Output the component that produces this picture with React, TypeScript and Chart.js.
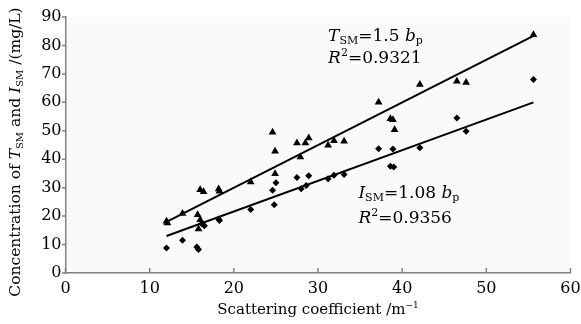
import React, { useEffect, useRef } from "react";
import { Chart, registerables } from "chart.js";

Chart.register(...registerables);

// ---- data ----
const tsmX = [12.0, 12.1, 13.9, 15.7, 16.0, 15.8, 16.0, 16.4, 18.2, 18.3, 22.0, 24.6, 24.9, 24.9, 27.5, 27.9, 28.5, 28.9, 31.2, 31.9, 33.1, 37.2, 38.6, 38.9, 39.1, 42.1, 46.5, 47.6, 55.6];
const tsmY = [18.2, 17.6, 20.9, 20.5, 18.7, 15.5, 29.3, 28.6, 29.5, 28.7, 32.0, 49.5, 42.8, 34.9, 45.7, 40.8, 45.7, 47.5, 44.9, 46.5, 46.3, 60.0, 54.2, 53.9, 50.4, 66.3, 67.4, 67.0, 83.8];
const ismX = [12.0, 13.9, 15.6, 15.8, 16.2, 16.5, 18.2, 18.3, 22.0, 24.6, 24.8, 25.0, 27.5, 28.0, 28.6, 28.9, 31.2, 31.9, 33.1, 37.2, 38.6, 39.0, 38.9, 42.1, 46.5, 47.6, 55.6];
const ismY = [8.8, 11.5, 9.1, 8.3, 17.3, 16.6, 19.0, 18.5, 22.3, 29.1, 24.0, 31.7, 33.6, 29.6, 30.8, 34.2, 33.1, 34.4, 34.6, 43.7, 37.5, 37.3, 43.6, 44.0, 54.5, 49.8, 68.0];
const fitX = [12.0, 55.6];
const tsmFitY = [18.0, 83.4];
const ismFitY = [13.0, 60.0];
const xTicks = [0, 10, 20, 30, 40, 50, 60];
const yTicks = [0, 10, 20, 30, 40, 50, 60, 70, 80, 90];

const FAMILY = '"DejaVu Serif", serif';
const AXIS_COLOR = "#858080";

type Seg = { t: string; i?: boolean; sub?: boolean; sup?: boolean };

function drawRich(ctx: CanvasRenderingContext2D, segs: Seg[], x: number, y: number, size: number, align: "left" | "center") {
  const fontFor = (s: Seg) => {
    const sz = s.sub || s.sup ? Math.round(size * 0.62) : size;
    return `${s.i ? "italic " : ""}${sz}px ${FAMILY}`;
  };
  let total = 0;
  for (const s of segs) {
    ctx.font = fontFor(s);
    total += ctx.measureText(s.t).width;
  }
  let cx = align === "center" ? x - total / 2 : x;
  ctx.textBaseline = "alphabetic";
  ctx.textAlign = "left";
  for (const s of segs) {
    ctx.font = fontFor(s);
    let dy = 0;
    if (s.sub) dy = size * 0.22;
    if (s.sup) dy = -size * 0.4;
    ctx.fillText(s.t, cx, y + dy);
    cx += ctx.measureText(s.t).width;
  }
}

const decorPlugin = {
  id: "decor",
  beforeDraw(chart: any) {
    const { ctx, chartArea } = chart;
    ctx.save();
    ctx.fillStyle = "#ffffff";
    ctx.fillRect(0, 0, chart.width, chart.height);
    ctx.fillStyle = "#fafafa";
    ctx.fillRect(chartArea.left, chartArea.top, chartArea.right - chartArea.left, chartArea.bottom - chartArea.top);
    ctx.restore();
  },
  afterDraw(chart: any) {
    const { ctx, chartArea, scales } = chart;
    const xs = scales.x;
    const ys = scales.y;
    ctx.save();
    // tick marks: x inward, y outward
    ctx.strokeStyle = AXIS_COLOR;
    ctx.lineWidth = 1.5;
    ctx.beginPath();
    for (const v of xTicks) {
      const px = xs.getPixelForValue(v);
      ctx.moveTo(px, chartArea.bottom);
      ctx.lineTo(px, chartArea.bottom - 5);
    }
    for (const v of yTicks) {
      const py = ys.getPixelForValue(v);
      ctx.moveTo(chartArea.left, py);
      ctx.lineTo(chartArea.left - 3.5, py);
    }
    ctx.stroke();

    ctx.fillStyle = "#000";
    // x title
    const midX = (chartArea.left + chartArea.right) / 2;
    drawRich(ctx, [{ t: "Scattering coefficient /m" }, { t: "−1", sup: true }], midX, 314, 15, "center");
    // y title
    ctx.save();
    ctx.translate(20, 152);
    ctx.rotate(-Math.PI / 2);
    drawRich(
      ctx,
      [
        { t: "Concentration of " },
        { t: "T", i: true },
        { t: "SM", sub: true },
        { t: " and " },
        { t: "I", i: true },
        { t: "SM", sub: true },
        { t: " /(mg/L)" },
      ],
      0,
      0,
      15.5,
      "center"
    );
    ctx.restore();

    // annotations
    const a1x = xs.getPixelForValue(31.2);
    drawRich(ctx, [{ t: "T", i: true }, { t: "SM", sub: true }, { t: "=1.5 " }, { t: "b", i: true }, { t: "p", sub: true }], a1x, ys.getPixelForValue(81.7), 17, "left");
    drawRich(ctx, [{ t: "R", i: true }, { t: "2", sup: true }, { t: "=0.9321" }], a1x, ys.getPixelForValue(74.0), 17, "left");
    const a2x = xs.getPixelForValue(34.8);
    drawRich(ctx, [{ t: "I", i: true }, { t: "SM", sub: true }, { t: "=1.08 " }, { t: "b", i: true }, { t: "p", sub: true }], a2x, ys.getPixelForValue(26.5), 17, "left");
    drawRich(ctx, [{ t: "R", i: true }, { t: "2", sup: true }, { t: "=0.9356" }], a2x, ys.getPixelForValue(17.7), 17, "left");
    ctx.restore();
  },
};

export default function App() {
  const ref = useRef<HTMLCanvasElement | null>(null);
  useEffect(() => {
    if (!ref.current) return;
    const chart = new Chart(ref.current, {
      type: "scatter",
      data: {
        datasets: [
          {
            label: "TSM",
            data: tsmX.map((x, i) => ({ x, y: tsmY[i] })),
            pointStyle: "triangle",
            radius: 4.5,
            backgroundColor: "#000",
            borderColor: "#000",
            borderWidth: 0,
          },
          {
            label: "ISM",
            data: ismX.map((x, i) => ({ x, y: ismY[i] })),
            pointStyle: "rectRot",
            radius: 3.5,
            backgroundColor: "#000",
            borderColor: "#000",
            borderWidth: 0,
          },
          {
            type: "line",
            label: "TSM fit",
            data: fitX.map((x, i) => ({ x, y: tsmFitY[i] })),
            borderColor: "#000",
            borderWidth: 2,
            pointRadius: 0,
            fill: false,
          },
          {
            type: "line",
            label: "ISM fit",
            data: fitX.map((x, i) => ({ x, y: ismFitY[i] })),
            borderColor: "#000",
            borderWidth: 2,
            pointRadius: 0,
            fill: false,
          },
        ] as any,
      },
      options: {
        animation: false,
        responsive: false,
        maintainAspectRatio: false,
        layout: { padding: { top: 17, right: 10.5, left: 0, bottom: 0 } },
        plugins: { legend: { display: false }, tooltip: { enabled: false } },
        scales: {
          x: {
            type: "linear",
            min: 0,
            max: 60,
            afterBuildTicks: (s: any) => {
              s.ticks = xTicks.map((v) => ({ value: v }));
            },
            ticks: { color: "#000", font: { family: FAMILY, size: 16 }, padding: 6, maxRotation: 0 },
            grid: { display: false, drawTicks: false },
            border: { color: AXIS_COLOR, width: 1.5 },
            afterFit: (s: any) => {
              s.height = 51;
              s.paddingLeft = 0;
              s.paddingRight = 0;
            },
          },
          y: {
            type: "linear",
            min: 0,
            max: 90,
            afterBuildTicks: (s: any) => {
              s.ticks = yTicks.map((v) => ({ value: v }));
            },
            ticks: { color: "#000", font: { family: FAMILY, size: 16 }, padding: 4 },
            grid: { display: false, drawTicks: false },
            border: { color: AXIS_COLOR, width: 1.5 },
            afterFit: (s: any) => {
              s.width = 65.5;
              s.paddingTop = 0;
              s.paddingBottom = 0;
            },
          },
        },
      },
      plugins: [decorPlugin],
    });
    return () => chart.destroy();
  }, []);
  return (
    <div style={{ position: "fixed", left: 0, top: 0, width: 581, height: 324 }}>
      <canvas ref={ref} width={581} height={324} style={{ width: 581, height: 324, display: "block" }} />
    </div>
  );
}
